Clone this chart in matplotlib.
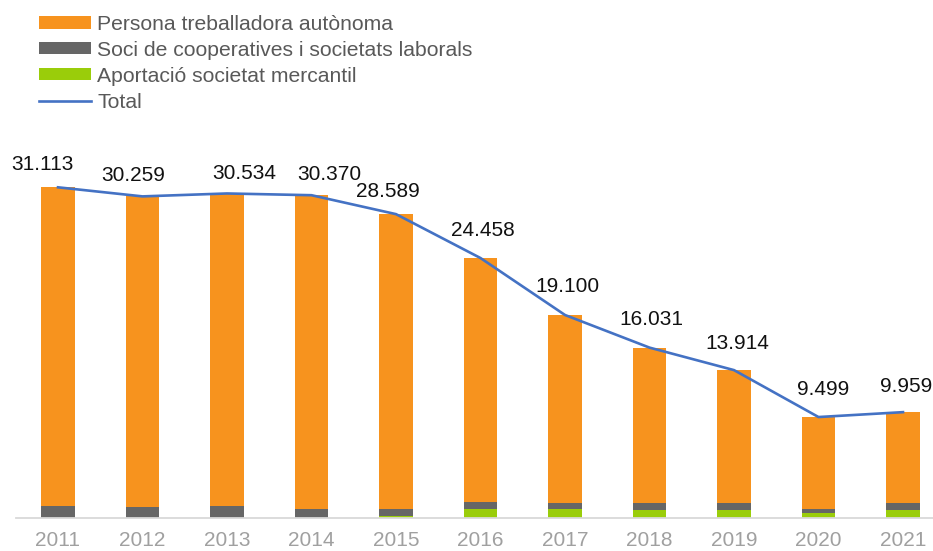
import matplotlib
matplotlib.use("Agg")
from matplotlib import pyplot as plt
import numpy as np

plt.rcParams['font.family'] = ['Liberation Sans', 'DejaVu Sans']

years = ['2011', '2012', '2013', '2014', '2015', '2016', '2017', '2018', '2019', '2020', '2021']
persona = [29983, 29209, 29404, 29520, 27769, 22948, 17680, 14621, 12504, 8619, 8549]
soci = [1130, 1050, 1130, 850, 630, 660, 600, 660, 660, 440, 660]
aportacio = [0, 0, 0, 0, 190, 850, 820, 750, 750, 440, 750]
total = [31113, 30259, 30534, 30370, 28589, 24458, 19100, 16031, 13914, 9499, 9959]

# label nudges (pixels) so the numbers don't collide with the line
label_dx = [-16, -9, 17, 18, -8, 2, 2, 2, 3, 5, 3]
label_dy = [17, 15, 14, 15, 17, 22, 23, 23, 21, 22, 20]

c_persona = '#F7931E'
c_soci = '#666666'
c_aport = '#9ACD0A'
c_total = '#4472C4'

W, H = 933, 551
fig = plt.figure(figsize=(W/100., H/100.), dpi=100)
ax = fig.add_axes([15.75/W, 33./H, 929.5/W, 372./H])

x = np.arange(len(years))
bw = 0.40
b_aport = ax.bar(x, aportacio, bw, color=c_aport, zorder=2)
b_soci = ax.bar(x, soci, bw, bottom=aportacio, color=c_soci, zorder=2)
base = np.array(aportacio) + np.array(soci)
b_pers = ax.bar(x, persona, bw, bottom=base, color=c_persona, zorder=2)
l_total, = ax.plot(x, total, color=c_total, lw=1.9, zorder=3)

for xi, t, dx, dy in zip(x, total, label_dx, label_dy):
    txt = '{:,}'.format(t).replace(',', '.')
    ax.annotate(txt, (xi, t), xytext=(dx, dy), textcoords='offset pixels',
                ha='center', va='baseline', fontsize=15, color='#111111')

ax.set_xlim(-0.5, 10.5)
ax.set_ylim(0, 35000)
ax.set_xticks(x)
ax.set_xticklabels(years)
ax.tick_params(axis='x', length=0, pad=9.5, labelsize=15, labelcolor='#A0A0A0')
ax.set_yticks([])
for s in ['top', 'right', 'left']:
    ax.spines[s].set_visible(False)
ax.spines['bottom'].set_color('#D9D9D9')
ax.spines['bottom'].set_linewidth(1.3)

leg = fig.legend([b_pers, b_soci, b_aport, l_total],
                 ['Persona treballadora autònoma',
                  'Soci de cooperatives i societats laborals',
                  'Aportació societat mercantil', 'Total'],
                 loc='upper left', bbox_to_anchor=(39./W, 1 - 15./H),
                 frameon=False, fontsize=15.2, handlelength=2.45, handleheight=0.5,
                 handletextpad=0.3, labelspacing=0.33, borderpad=0, borderaxespad=0)
for t in leg.get_texts():
    t.set_color('#595959')

fig.savefig('out.png', dpi=100)
